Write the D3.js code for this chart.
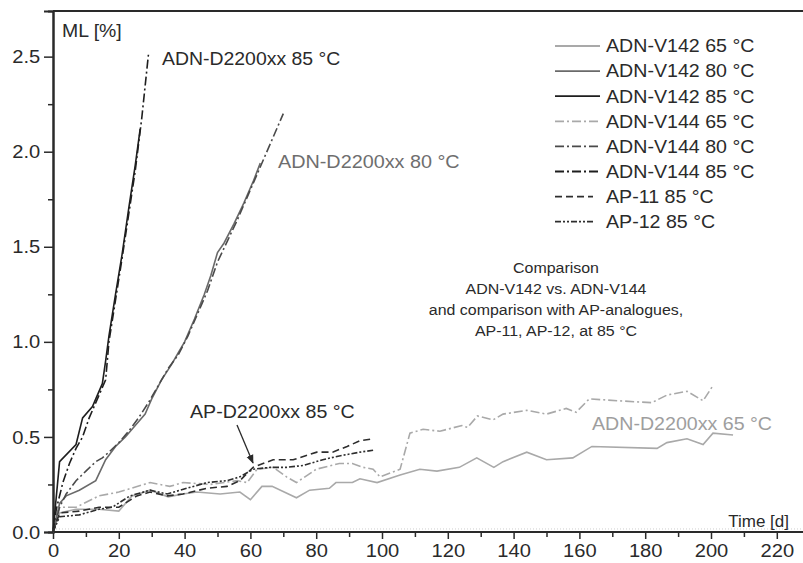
<!DOCTYPE html>
<html>
<head>
<meta charset="utf-8">
<script src="https://cdn.jsdelivr.net/npm/d3@7"></script>
<style>
  body { margin: 0; background: #fff; }
  svg { display: block; font-family: "Liberation Sans", Arial, sans-serif; }
</style>
</head>
<body>
<div id="chart"></div>
<script>
// mass loss [%] over time [d]
const v142_65 = [[0,0],[2,0.1],[7,0.12],[14,0.12],[20,0.11],[24,0.19],[29.5,0.22],[35,0.185],[39.5,0.2],[43.7,0.21],[50.8,0.2],[56.8,0.21],[60,0.17],[63.5,0.24],[66.6,0.24],[74,0.18],[78,0.22],[84,0.23],[86,0.26],[91,0.26],[93.3,0.28],[98.5,0.26],[105.5,0.3],[111.5,0.33],[116.7,0.32],[123.5,0.34],[128.8,0.39],[134,0.34],[136.8,0.37],[144,0.42],[150,0.38],[158,0.39],[163.8,0.45],[183.6,0.44],[186.6,0.47],[192.7,0.49],[197.6,0.46],[200.6,0.52],[206.7,0.51]];
const v142_80 = [[0,0],[2,0.15],[4,0.19],[8,0.22],[13,0.27],[16,0.38],[19,0.45],[22,0.5],[25,0.56],[28,0.62],[30,0.7],[33,0.8],[36,0.88],[38,0.94],[40,1.0],[43,1.12],[46,1.25],[48,1.35],[50,1.47],[52,1.52],[55,1.62],[58,1.73],[61,1.85],[63,1.94]];
const v142_85 = [[0,0],[2,0.37],[7,0.46],[9,0.6],[12,0.66],[13,0.7],[15,0.78],[16,0.9],[17,1.03],[19,1.25],[21,1.46],[23,1.7],[25,1.93],[26.5,2.12]];
const v144_65 = [[0,0],[2,0.13],[7,0.13],[14,0.19],[20,0.21],[29.5,0.26],[35.5,0.24],[39.5,0.26],[47.7,0.25],[56,0.27],[59,0.26],[62,0.33],[66.9,0.34],[71,0.29],[74,0.26],[80,0.33],[87,0.36],[91,0.36],[94.3,0.34],[97.3,0.33],[99.4,0.29],[105.5,0.33],[108.5,0.52],[112.5,0.54],[117.6,0.53],[124.3,0.56],[126,0.55],[129,0.61],[133.8,0.59],[136.8,0.62],[144,0.64],[150,0.62],[156,0.65],[159,0.63],[163,0.7],[172,0.69],[182,0.68],[186.6,0.72],[192.7,0.74],[197.6,0.69],[200.6,0.77]];
const v144_80 = [[0,0],[2,0.13],[4,0.2],[7,0.27],[10,0.32],[13,0.37],[15,0.39],[17,0.42],[20,0.47],[23,0.53],[26,0.6],[29,0.68],[32,0.77],[35,0.86],[38,0.93],[41,1.03],[44,1.15],[47,1.27],[50,1.42],[53,1.53],[56,1.64],[59,1.76],[62,1.88],[64,1.96],[67,2.08],[70,2.2]];
const v144_85 = [[0,0],[1,0.12],[3,0.26],[5,0.36],[7,0.44],[9,0.5],[11,0.6],[14,0.72],[16,0.8],[17,1.0],[19,1.22],[21,1.44],[23,1.67],[25,1.9],[27,2.18],[29,2.51]];
const ap11_85 = [[0,0],[2,0.1],[8,0.11],[14,0.13],[20,0.13],[25.5,0.19],[29.5,0.21],[34.7,0.19],[39.5,0.2],[46.8,0.23],[52.9,0.24],[56.8,0.27],[60.8,0.34],[66.9,0.38],[73,0.38],[80.2,0.42],[85,0.42],[89.4,0.45],[93.3,0.48],[97.3,0.49]];
const ap12_85 = [[0,0],[2,0.08],[8,0.09],[14,0.12],[18,0.13],[23.4,0.19],[29.5,0.22],[34.7,0.2],[40.7,0.23],[46.8,0.26],[52.9,0.27],[56.8,0.29],[60.8,0.33],[66,0.34],[71,0.34],[76,0.35],[82,0.38],[87,0.4],[93.3,0.42],[97.3,0.43]];

const seriesNames = ['ADN-V142 65 °C', 'ADN-V142 80 °C', 'ADN-V142 85 °C', 'ADN-V144 65 °C',
    'ADN-V144 80 °C', 'ADN-V144 85 °C', 'AP-11 85 °C', 'AP-12 85 °C'];
const seriesData = [v142_65, v142_80, v142_85, v144_65, v144_80, v144_85, ap11_85, ap12_85];

const xTicks = [0, 20, 40, 60, 80, 100, 120, 140, 160, 180, 200, 220];
const yTicks = [0.0, 0.5, 1.0, 1.5, 2.0, 2.5];

// line looks for each series
const colors = ['#a9a9a9', '#6a6a6a', '#1e1e1e', '#a9a9a9', '#4a4a4a', '#1e1e1e', '#2e2e2e', '#2e2e2e'];
const dashes = [null, null, null, '9,3,2,3', '9,3,2,3', '9,3,2,3', '7,4', '6,2,2,2,2,2'];

const width = 803, height = 563;
const margins = { top: 11, left: 53, bottom: 31 };

const svg = d3.select('#chart').append('svg')
    .attr('width', width)
    .attr('height', height);

const x = d3.scaleLinear().domain([0, 229]).range([margins.left, margins.left + 3.29 * 229]);
const y = d3.scaleLinear().domain([0, 2.74]).range([height - margins.bottom, margins.top]);

const ink = '#2a2a2a';

// frame top line
svg.append('line')
    .attr('x1', margins.left).attr('x2', width + 5)
    .attr('y1', margins.top).attr('y2', margins.top)
    .attr('stroke', ink).attr('stroke-width', 2);

// faint dotted zero line just above the axis
svg.append('line')
    .attr('x1', x(0)).attr('x2', width)
    .attr('y1', y(0.016)).attr('y2', y(0.016))
    .attr('stroke', '#cfcfcf').attr('stroke-width', 1)
    .attr('stroke-dasharray', '1,2');

// minor ticks
const xAxisG = svg.append('g').attr('transform', `translate(0,${y(0)})`);
xAxisG.call(d3.axisBottom(x).tickValues(d3.range(10, 229, 20)).tickSize(5).tickFormat(''));
const xMajor = svg.append('g').attr('transform', `translate(0,${y(0)})`);
xMajor.call(d3.axisBottom(x).tickValues(xTicks).tickSize(7).tickPadding(5).tickFormat(d3.format('d')));

const yMinor = svg.append('g').attr('transform', `translate(${x(0)},0)`);
yMinor.call(d3.axisLeft(y).tickValues(d3.range(0.25, 2.74, 0.5)).tickSize(5).tickFormat(''));
const yMajor = svg.append('g').attr('transform', `translate(${x(0)},0)`);
yMajor.call(d3.axisLeft(y).tickValues(yTicks).tickSize(9).tickPadding(3).tickFormat(d3.format('.1f')));

[xAxisG, xMajor, yMinor, yMajor].forEach(a => {
    a.select('.domain').attr('stroke', ink).attr('stroke-width', 2);
    a.selectAll('.tick line').attr('stroke', ink).attr('stroke-width', 1.5);
    a.selectAll('.tick text')
        .attr('fill', ink)
        .attr('transform', 'scale(1.06,1)')
        .style('font-size', '19px')
        .style('font-family', '"Liberation Sans", Arial, sans-serif');
});
xAxisG.select('.domain').attr('d', `M${x(0)},0H${width + 5}`);
xMajor.select('.domain').attr('d', `M${x(0)},0H${width + 5}`);

// data lines
const line = d3.line().x(d => x(d[0])).y(d => y(d[1]));
svg.append('g').selectAll('path')
    .data(seriesData)
    .join('path')
    .attr('d', d => line(d))
    .attr('fill', 'none')
    .attr('stroke', (_, i) => colors[i])
    .attr('stroke-width', 1.6)
    .attr('stroke-dasharray', (_, i) => dashes[i]);

// labels, slightly stretched sideways like the original
function label(tx, ty, str, size, color, anchor, sx) {
    svg.append('text')
        .attr('transform', `translate(${tx},${ty}) scale(${sx || 1},1)`)
        .attr('dy', '0.35em')
        .attr('text-anchor', anchor || 'start')
        .attr('fill', color)
        .style('font-size', size + 'px')
        .text(str);
}

// legend
const legend = svg.append('g');
const legendTop = 46, legendStep = 25.1;
legend.selectAll('line')
    .data(seriesNames)
    .join('line')
    .attr('x1', 555)
    .attr('x2', (_, i) => i < 6 ? 600 : 593)
    .attr('y1', (_, i) => legendTop + i * legendStep)
    .attr('y2', (_, i) => legendTop + i * legendStep)
    .attr('stroke', (_, i) => colors[i])
    .attr('stroke-width', 1.8)
    .attr('stroke-dasharray', (_, i) => dashes[i]);
seriesNames.forEach((name, i) => label(606, legendTop + i * legendStep, name, 18, ink, 'start', 1.09));

label(62, 31, 'ML [%]', 18, ink, 'start', 1.08);
label(789, 521, 'Time [d]', 17, ink, 'end');
label(162, 59, 'ADN-D2200xx 85 °C', 18, ink, 'start', 1.08);
label(278, 162, 'ADN-D2200xx 80 °C', 18, '#6e6e6e', 'start', 1.1);
label(592, 424, 'ADN-D2200xx 65 °C', 18, '#9e9e9e', 'start', 1.09);
label(190, 412, 'AP-D2200xx 85 °C', 18, ink, 'start', 1.09);

const commentLines = ['Comparison', 'ADN-V142 vs. ADN-V144', 'and comparison with AP-analogues,', 'AP-11, AP-12, at 85 °C'];
commentLines.forEach((t, i) => label(556, 268 + i * 21, t, 15.5, ink, 'middle', 1.03));

// arrow to the AP curves
svg.append('defs').append('marker')
    .attr('id', 'head')
    .attr('viewBox', '0 0 10 10')
    .attr('refX', 9).attr('refY', 5)
    .attr('markerWidth', 9).attr('markerHeight', 9)
    .attr('markerUnits', 'userSpaceOnUse')
    .attr('orient', 'auto')
    .append('path')
    .attr('d', 'M0,1L10,5L0,9Z')
    .attr('fill', ink);
svg.append('line')
    .attr('x1', 237).attr('y1', 425)
    .attr('x2', 253).attr('y2', 463)
    .attr('stroke', ink).attr('stroke-width', 1.3)
    .attr('marker-end', 'url(#head)');
</script>
</body>
</html>
